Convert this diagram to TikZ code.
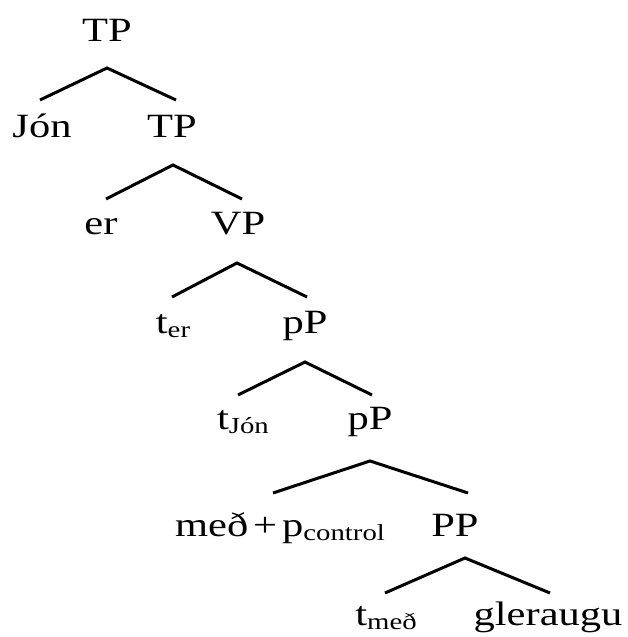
\documentclass[tikz,border=0pt]{standalone}
\usepackage{fontspec}
\setmainfont{Liberation Serif}[FakeStretch=1.25]
\usepackage{tikz}
\usetikzlibrary{positioning}
\newcommand{\lowsub}[1]{\raisebox{-4pt}{\fontsize{23}{26}\selectfont #1}}

\begin{document}
\begin{tikzpicture}[x=1pt,y=1pt,every node/.style={font=\fontsize{34}{40}\selectfont,anchor=base,inner sep=0pt}]
\tikzset{branch/.style={line width=3pt}}
\useasboundingbox (0,0) rectangle (628,637);
% labels, one row per level
\node (tp0) at (107,595) {TP};
\node (jon) at (42,499) {Jón};
\node (tp1) at (172,499) {TP};
\node (er) at (101,402) {er};
\node (vp) at (238,402) {VP};
\node (ter) at (173,303) {t\lowsub{er}};
\node (pp1) at (305,303) {pP};
\node (tjon) at (243,207) {t\lowsub{Jón}};
\node (pp2) at (370,207) {pP};
\node (med) at (280,100) {með\kern5pt+\kern5pt p\lowsub{control}};
\node (ppp) at (455,100) {PP};
\node (tmed) at (386,11) {t\lowsub{með}};
\node (gler) at (548,11) {gleraugu};
% branches
\draw[branch] ([xshift=-2pt,yshift=38pt]jon.base) -- ([yshift=-26pt]tp0.base) -- ([xshift=4pt,yshift=38pt]tp1.base);
\draw[branch] ([xshift=5pt,yshift=36pt]er.base) -- ([xshift=1pt,yshift=-27pt]tp1.base) -- ([xshift=4pt,yshift=36pt]vp.base);
\draw[branch] ([xshift=-1pt,yshift=37pt]ter.base) -- ([xshift=-1pt,yshift=-28pt]vp.base) -- ([xshift=2pt,yshift=37pt]pp1.base);
\draw[branch] ([xshift=-5pt,yshift=35pt]tjon.base) -- ([yshift=-28pt]pp1.base) -- ([xshift=2pt,yshift=35pt]pp2.base);
\draw[branch] ([xshift=-7pt,yshift=44pt]med.base) -- ([yshift=-31pt]pp2.base) -- ([xshift=13pt,yshift=44pt]ppp.base);
\draw[branch] ([xshift=-1pt,yshift=33pt]tmed.base) -- ([xshift=10pt,yshift=-21pt]ppp.base) -- ([xshift=2pt,yshift=33pt]gler.base);
\end{tikzpicture}
\end{document}
